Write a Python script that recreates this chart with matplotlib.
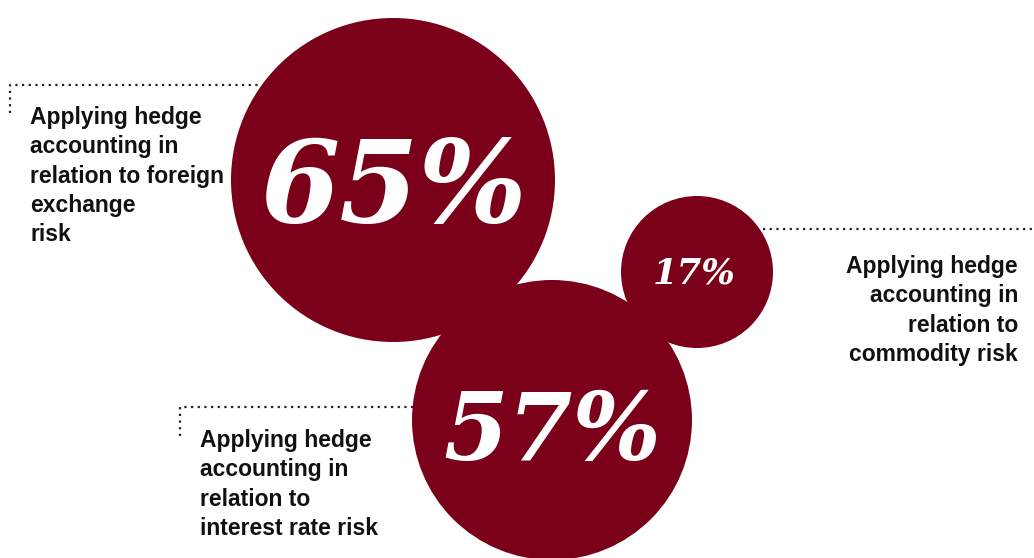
import matplotlib.pyplot as plt
from matplotlib.patches import Circle

# shares of respondents applying hedge accounting, per risk type
values = [65, 17, 57]
labels = [
    "Applying hedge\naccounting in\nrelation to foreign\nexchange\nrisk",
    "Applying hedge\naccounting in\nrelation to\ncommodity risk",
    "Applying hedge\naccounting in\nrelation to\ninterest rate risk",
]

# bubble layout (pixel space, y down)
centers = [(393, 180), (697, 272), (552, 420)]
radii = [162, 76, 140]
num_sizes = [82, 25.5, 67]
# where each number sits: x centre and baseline
num_anchor = [(394, 222), (694, 284), (552, 460)]

# label placement and connector paths
label_pos = [(30, 106, "left"), (1018, 255, "right"), (200, 429, "left")]
connectors = [
    ([10, 10, 262], [113, 85, 85]),
    ([763, 1034], [229, 229]),
    ([180, 180, 414], [436, 407, 407]),
]

wine = "#7b0019"

fig = plt.figure(figsize=(10.34, 5.58), dpi=100)
ax = fig.add_axes([0, 0, 1, 1])
ax.set_xlim(0, 1034)
ax.set_ylim(558, 0)
ax.set_aspect("equal")
ax.axis("off")

for (cx, cy), r in zip(centers, radii):
    ax.add_patch(Circle((cx, cy), r, color=wine, lw=0, zorder=1))

for (x, y), v, fs in zip(num_anchor, values, num_sizes):
    ax.text(x, y, f"{v}%", color="white", fontsize=fs,
            family="DejaVu Serif", weight="bold", style="italic",
            ha="center", va="baseline", zorder=3)

for xs, ys in connectors:
    ax.plot(xs, ys, color="#222222", lw=1.6, ls=(0, (1, 2)),
            solid_capstyle="round", zorder=0)

for (x, y, align), txt in zip(label_pos, labels):
    ax.text(x, y, txt, fontsize=16.5, family="Liberation Sans", weight="bold",
            ha=align, va="top", multialignment=align, linespacing=1.35,
            color="#111111")

fig.savefig("out.png", dpi=100)
